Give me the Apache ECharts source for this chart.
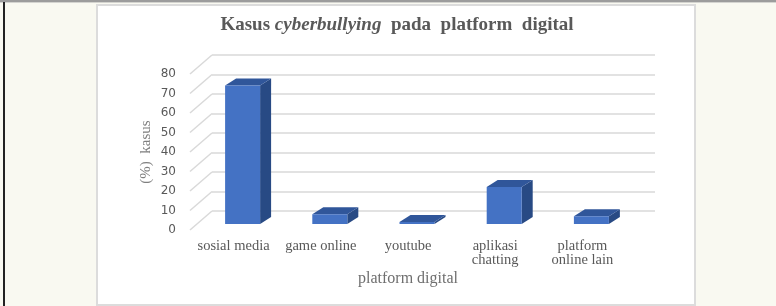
<!DOCTYPE html>
<html>
<head>
<meta charset="utf-8">
<script src="https://cdn.jsdelivr.net/npm/echarts@6/dist/echarts.min.js"></script>
<style>
  html, body { margin: 0; padding: 0; background: #f9f9f1; }
  #wrap { position: relative; width: 776px; height: 306px; overflow: hidden; }
  #topline { position: absolute; left: 0; top: 0; width: 776px; height: 2px; background: #9c9c9c; }
  #topline2 { position: absolute; left: 0; top: 2px; width: 776px; height: 1px; background: #d4d4d0; }
  #leftline { position: absolute; left: 3px; top: 2px; width: 2px; height: 304px; background: #222; }
  #panel { position: absolute; left: 96px; top: 4px; width: 596px; height: 298px; background: #fff; border: 2px solid #dcdcdc; }
  #chart { position: absolute; left: 0; top: 0; width: 776px; height: 306px; }
</style>
</head>
<body>
<div id="wrap">
  <div id="topline"></div>
  <div id="topline2"></div>
  <div id="leftline"></div>
  <div id="panel"></div>
  <div id="chart"></div>
</div>
<script>
// data
const categories = ["sosial media", "game online", "youtube", "aplikasi\nchatting", "platform\nonline lain"];
const values = [71, 5, 1, 19, 4];
const yTicks = [0, 10, 20, 30, 40, 50, 60, 70, 80];

const gridColor = "#d9d9d9";

const myChart = echarts.init(document.getElementById("chart"));
const option = {
  backgroundColor: "transparent",
  animation: false,
  title: {
    text: "{b|Kasus }{i|cyberbullying}{b|  pada  platform  digital}",
    left: 397,
    top: 16,
    textAlign: "center",
    padding: 0,
    textStyle: {
      rich: {
        b: { fontFamily: "Liberation Serif", fontWeight: "bold", fontSize: 19, color: "#595959" },
        i: { fontFamily: "Liberation Serif", fontWeight: "bold", fontStyle: "italic", fontSize: 19, color: "#595959" },
      },
    },
  },
  grid: [
    // back wall
    { left: 212, top: 55, width: 443, height: 156 },
    // front plane
    { left: 190, top: 74, width: 436, height: 156 },
  ],
  xAxis: [
    {
      type: "category",
      gridIndex: 0,
      data: categories,
      show: false,
    },
    {
      type: "category",
      gridIndex: 1,
      data: categories,
      axisLine: { show: false },
      axisTick: { show: false },
      axisLabel: {
        interval: 0,
        margin: 9,
        color: "#595959",
        fontFamily: "Liberation Serif",
        fontSize: 14.5,
        lineHeight: 14,
      },
      name: "platform digital",
      nameLocation: "middle",
      nameGap: 41,
      nameMoveOverlap: false,
      nameTextStyle: { color: "#6f6f6f", fontFamily: "Liberation Serif", fontSize: 16 },
    },
  ],
  yAxis: [
    {
      type: "value",
      gridIndex: 0,
      min: 0,
      max: 80,
      interval: 10,
      axisLine: { show: false },
      axisTick: { show: false },
      axisLabel: { show: false },
      splitLine: { lineStyle: { color: gridColor, width: 1.5 } },
    },
    {
      type: "value",
      gridIndex: 1,
      min: 0,
      max: 80,
      interval: 10,
      axisLine: { show: false },
      axisTick: { show: false },
      splitLine: { show: false },
      axisLabel: { margin: 14, color: "#595959", fontFamily: "DejaVu Sans", fontSize: 12 },
      name: "(%)  kasus",
      nameLocation: "middle",
      nameGap: 36,
      nameMoveOverlap: false,
      nameTextStyle: { color: "#7f7f7f", fontFamily: "Liberation Serif", fontSize: 15 },
    },
  ],
  series: [
    {
      // slanted side-wall lines joining front ticks to the back wall
      type: "custom",
      xAxisIndex: 1,
      yAxisIndex: 1,
      silent: true,
      data: yTicks.map((v) => [0, v]),
      renderItem(params, api) {
        const y = api.coord([0, api.value(1)])[1];
        const x = params.coordSys.x;
        return {
          type: "line",
          shape: { x1: x, y1: y, x2: x + 22, y2: y - 19 },
          style: { stroke: gridColor, lineWidth: 1.5 },
        };
      },
    },
    {
      // 3d-looking bars
      type: "custom",
      xAxisIndex: 1,
      yAxisIndex: 1,
      data: values.map((v, i) => [i, v]),
      renderItem(params, api) {
        const top = api.coord([api.value(0), api.value(1)]);
        const base = api.coord([api.value(0), 0]);
        const w = 35, ox = 9, oy = -6, dx = 11, dy = -7;
        const x0 = top[0] + ox - w / 2;
        const x1 = x0 + w;
        const yt = top[1] + oy;
        const yb = base[1] + oy;
        return {
          type: "group",
          children: [
            {
              type: "polygon",
              shape: { points: [[x1, yt], [x1, yb], [x1 + dx, yb + dy], [x1 + dx, yt + dy]] },
              style: { fill: "#284a84" },
            },
            {
              type: "polygon",
              shape: { points: [[x0, yt], [x1, yt], [x1 + dx, yt + dy], [x0 + dx, yt + dy]] },
              style: { fill: "#30569a" },
            },
            {
              type: "rect",
              shape: { x: x0, y: yt, width: w, height: yb - yt },
              style: { fill: "#4472c4" },
            },
          ],
        };
      },
    },
  ],
};
myChart.setOption(option);
</script>
</body>
</html>
